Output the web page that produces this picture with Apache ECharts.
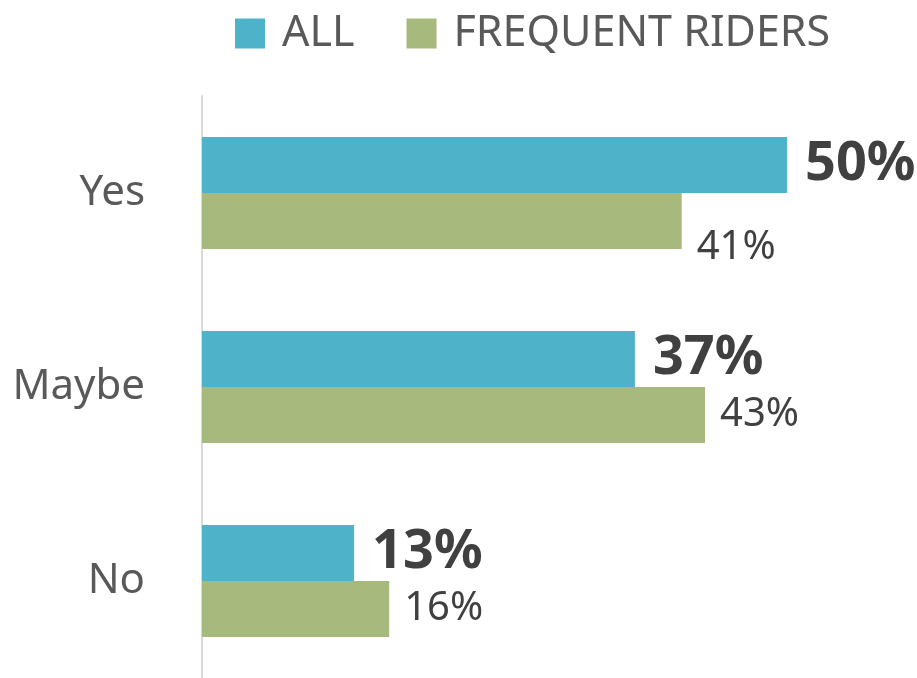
<!DOCTYPE html>
<html>
<head>
<meta charset="utf-8">
<script src="https://cdn.jsdelivr.net/npm/echarts@6/dist/echarts.min.js"></script>
<style>
  html, body { margin: 0; padding: 0; background: #fff; }
  #chart { width: 917px; height: 678px; }
</style>
</head>
<body>
<div id="chart"></div>
<script>
var categories = ['Yes', 'Maybe', 'No'];
var allValues = [50, 37, 13];
var frequentValues = [41, 43, 16];
var seriesNames = ['ALL', 'FREQUENT RIDERS'];

var chart = echarts.init(document.getElementById('chart'));

// the 41% label sits a bit lower in the original
var frequentData = frequentValues.map(function (v, i) {
  var item = { value: v };
  if (i === 0) {
    item.label = { offset: [0, 27] };
  }
  return item;
});

chart.setOption({
  animation: false,
  textStyle: { fontFamily: 'Noto Sans' },
  legend: {
    left: 230,
    top: 7,
    itemWidth: 30,
    itemHeight: 30,
    itemGap: 52,
    icon: 'rect',
    textStyle: {
      color: '#595959',
      fontSize: 43,
      padding: [0, 0, 0, 12]
    },
    data: seriesNames
  },
  grid: {
    left: 202,
    top: 96,
    width: 585,
    height: 588
  },
  xAxis: {
    type: 'value',
    min: 0,
    max: 50,
    show: false
  },
  yAxis: {
    type: 'category',
    inverse: true,
    data: categories,
    axisLine: { lineStyle: { color: '#D9D9D9', width: 2 } },
    axisTick: { show: false },
    axisLabel: {
      margin: 57,
      color: '#595959',
      fontSize: 42
    }
  },
  series: [
    {
      name: seriesNames[0],
      type: 'bar',
      barWidth: 56,
      barGap: '0%',
      itemStyle: { color: '#4EB3C8' },
      label: {
        show: true,
        position: 'right',
        distance: 18,
        formatter: '{c}%',
        color: '#404040',
        fontSize: 54,
        fontWeight: 'bold'
      },
      data: allValues
    },
    {
      name: seriesNames[1],
      type: 'bar',
      barWidth: 56,
      barGap: '0%',
      itemStyle: { color: '#A8B97D' },
      label: {
        show: true,
        position: 'right',
        distance: 15,
        formatter: '{c}%',
        color: '#404040',
        fontSize: 40
      },
      data: frequentData
    }
  ]
});
</script>
</body>
</html>
